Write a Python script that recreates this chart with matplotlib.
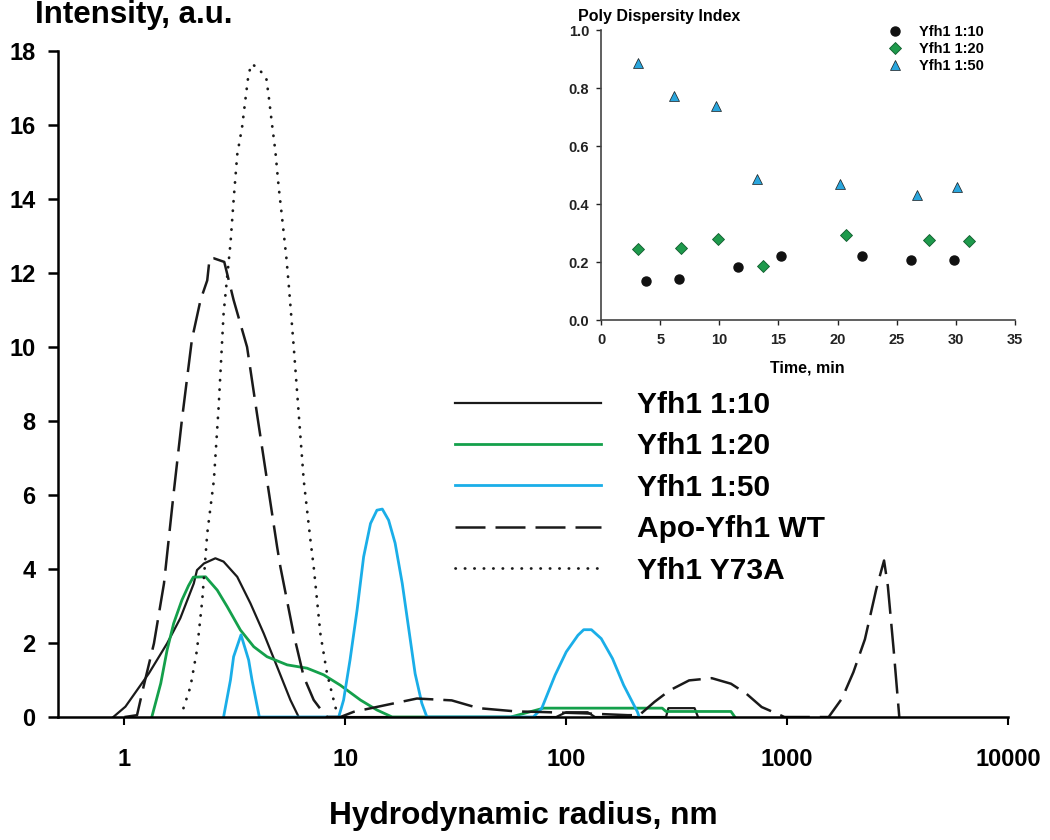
import matplotlib.pyplot as plt
from matplotlib.ticker import NullLocator, FormatStrFormatter

plt.rcParams['font.family'] = ['Liberation Sans', 'DejaVu Sans']
plt.rcParams['font.weight'] = 'bold'

# DLS size distributions (hydrodynamic radius in nm, intensity in a.u.)
r_10 = [0.89, 1.01, 1.29, 1.56, 1.79, 2.06, 2.13, 2.29, 2.58, 2.81, 3.24, 3.72,
        4.27, 4.91, 5.64, 6.15, 90, 100, 125, 135, 283, 290, 381, 395]
i_10 = [0, 0.28, 1.18, 1.99, 2.67, 3.61, 3.97, 4.15, 4.29, 4.20, 3.79, 3.07,
        2.26, 1.36, 0.46, 0, 0, 0.13, 0.13, 0, 0, 0.24, 0.24, 0]

r_20 = [1.33, 1.46, 1.56, 1.67, 1.82, 1.95, 2.05, 2.33, 2.63, 2.92, 3.35, 3.85,
        4.42, 5.45, 6.71, 7.98, 9.49, 11.7, 13.9, 16.3, 56, 79, 272, 283, 557, 580]
i_20 = [0, 0.91, 1.81, 2.53, 3.16, 3.55, 3.78, 3.79, 3.43, 2.98, 2.35, 1.90,
        1.63, 1.41, 1.32, 1.14, 0.86, 0.46, 0.19, 0, 0, 0.24, 0.24, 0.15, 0.15, 0]

r_50 = [2.81, 3.02, 3.12, 3.37, 3.65, 3.78, 4.08,
        9.33, 9.82, 10.5, 11.3, 12.1, 13.0, 13.9, 14.7, 15.7, 16.8, 18.1, 19.4, 20.7, 22.2, 23.4,
        70.9, 77.4, 89, 100, 113, 120, 130, 144, 162, 182, 210, 214]
i_50 = [0, 1.0, 1.63, 2.22, 1.54, 1.0, 0,
        0, 0.46, 1.54, 2.89, 4.33, 5.23, 5.59, 5.62, 5.32, 4.70, 3.61, 2.35, 1.17, 0.37, 0,
        0, 0.23, 1.13, 1.76, 2.21, 2.36, 2.36, 2.12, 1.58, 0.86, 0.14, 0]

r_apo = [1.0, 1.14, 1.22, 1.36, 1.51, 1.67, 1.82, 2.02, 2.21, 2.37, 2.43, 2.53, 2.83,
         3.12, 3.59, 3.98, 4.42, 4.91, 5.08, 5.83, 6.48, 7.19, 7.98, 8.26, 9.5,
         10.9, 16.6, 21.1, 30.3, 40.1, 59.7, 73, 120, 190, 214, 251, 294, 360, 456,
         557, 654, 767, 900, 973, 1542, 1771, 1995, 2250, 2536, 2747, 2858, 3035, 3220]
i_apo = [0, 0.05, 0.82, 1.99, 3.61, 6.05, 8.03, 10.2, 11.27, 11.8, 12.4, 12.4, 12.3,
         11.27, 10.0, 8.2, 6.4, 4.6, 4.06, 2.25, 1.09, 0.46, 0.1, 0, 0,
         0.14, 0.37, 0.5, 0.45, 0.24, 0.15, 0.14, 0.1, 0.05, 0.05, 0.41, 0.72, 0.99, 1.05,
         0.90, 0.63, 0.27, 0.09, 0, 0, 0.5, 1.21, 2.1, 3.47, 4.23, 3.54, 1.83, 0]

r_y73 = [1.85, 1.99, 2.13, 2.25, 2.37, 2.54, 2.67, 2.81, 3.02, 3.12, 3.24, 3.41, 3.53,
         3.65, 3.78, 4.08, 4.39, 4.50, 4.66, 4.82, 4.99, 5.17, 5.41, 5.54, 5.84, 6.15,
         6.48, 6.95, 7.19, 7.71, 8.26, 8.85, 9.17]
i_y73 = [0.24, 0.82, 1.81, 3.16, 4.96, 6.4, 8.39, 10.9, 12.8, 13.97, 15.2, 15.95, 16.7,
         17.4, 17.65, 17.5, 17.25, 16.77, 16.0, 15.3, 14.33, 13.5, 12.4, 11.7, 10.0, 8.2,
         6.4, 4.78, 4.06, 2.25, 1.18, 0.46, 0.1]

# inset: poly dispersity index vs time
t_10 = [3.8, 6.6, 11.6, 15.2, 22.1, 26.2, 29.8]
pdi_10 = [0.134, 0.142, 0.184, 0.221, 0.221, 0.208, 0.208]
t_20 = [3.1, 6.8, 9.9, 13.7, 20.7, 27.7, 31.1]
pdi_20 = [0.246, 0.249, 0.279, 0.187, 0.294, 0.276, 0.272]
t_50 = [3.15, 6.2, 9.7, 13.2, 20.2, 26.7, 30.1]
pdi_50 = [0.885, 0.774, 0.738, 0.485, 0.468, 0.431, 0.458]

labels = ['Yfh1 1:10', 'Yfh1 1:20', 'Yfh1 1:50', 'Apo-Yfh1 WT', 'Yfh1 Y73A']
x_ticks = [1, 10, 100, 1000, 10000]

black = '#1a1a1a'
green = '#14a04b'
blue = '#1aaee8'

fig = plt.figure(figsize=(10.5, 8.4), dpi=100)
ax = fig.add_axes([0.0552, 0.1464, 0.9048, 0.7929])

l1, = ax.plot(r_10, i_10, color=black, lw=1.6)
l2, = ax.plot(r_20, i_20, color=green, lw=2.0)
l3, = ax.plot(r_50, i_50, color=blue, lw=2.0)
l4, = ax.plot(r_apo, i_apo, color=black, lw=1.8, dashes=(12, 4))
l5, = ax.plot(r_y73, i_y73, color=black, lw=2.0, linestyle=(0, (0.1, 3.3)),
              dash_capstyle='round')

ax.set_xscale('log')
ax.set_xlim(0.5, 10000)
ax.set_ylim(0, 18)
ax.set_xticks(x_ticks)
ax.set_xticklabels([str(v) for v in x_ticks])
ax.xaxis.set_minor_locator(NullLocator())
ax.set_yticks(range(0, 19, 2))
for s in ['top', 'right']:
    ax.spines[s].set_visible(False)
for s in ['left', 'bottom']:
    ax.spines[s].set_linewidth(1.8)
ax.tick_params(axis='y', length=7, width=1.8, pad=9, labelsize=17)
ax.tick_params(axis='x', length=6, width=1.5, pad=16, labelsize=17)

fig.text(35 / 1050, 1 - 15 / 840, 'Intensity, a.u.', ha='left', va='center', fontsize=22.5)
fig.text(523 / 1050, 1 - 816 / 840, 'Hydrodynamic radius, nm', ha='center', va='center',
         fontsize=22.8)

ax.legend([l1, l2, l3, l4, l5], labels, loc='upper left',
          bbox_to_anchor=(455 / 1050, 1 - 391 / 840), bbox_transform=fig.transFigure,
          frameon=False, fontsize=21.5, handlelength=4.9, handletextpad=1.2,
          labelspacing=0.45, borderpad=0, borderaxespad=0)

# inset
ins = fig.add_axes([0.5724, 0.619, 0.3943, 0.3452])
ins.set_facecolor('white')
ins.plot(t_10, pdi_10, 'o', color='#111111', ms=6.5, label='Yfh1 1:10')
ins.plot(t_20, pdi_20, 'D', color='#1e9a4c', mec='#0f5a2c', mew=0.6, ms=6, label='Yfh1 1:20')
ins.plot(t_50, pdi_50, '^', color='#2aa6dd', mec='#1a1a1a', mew=0.5, ms=7, label='Yfh1 1:50')
ins.set_xlim(0, 35)
ins.set_ylim(0, 1)
ins.set_xticks(range(0, 36, 5))
ins.set_yticks([0, 0.2, 0.4, 0.6, 0.8, 1.0])
ins.yaxis.set_major_formatter(FormatStrFormatter('%.1f'))
for s in ['top', 'right']:
    ins.spines[s].set_visible(False)
for s in ['left', 'bottom']:
    ins.spines[s].set_linewidth(1.2)
    ins.spines[s].set_color('#444444')
ins.tick_params(length=3.5, width=1, labelsize=10.5, colors='#222222')
ins.tick_params(axis='x', pad=6)
ins.tick_params(axis='y', pad=5)
ins.legend(loc='upper left', bbox_to_anchor=(888 / 1050, 1 - 25 / 840),
           bbox_transform=fig.transFigure, frameon=False, fontsize=10.5,
           handlelength=1, handletextpad=1.1, labelspacing=0.2,
           borderpad=0, borderaxespad=0)
fig.text(578 / 1050, 1 - 16 / 840, 'Poly Dispersity Index', ha='left', va='center',
         fontsize=11.5)
fig.text(807 / 1050, 1 - 368 / 840, 'Time, min', ha='center', va='center', fontsize=11.5)

fig.savefig('out.png', dpi=100)
